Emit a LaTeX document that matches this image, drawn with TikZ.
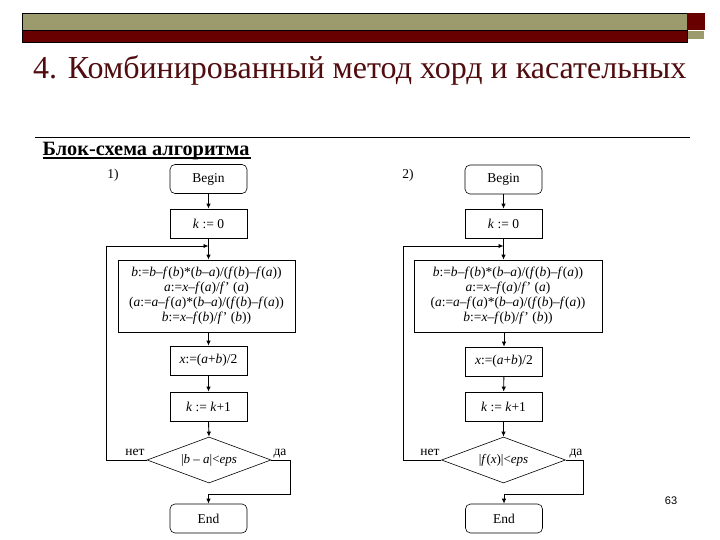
\documentclass[tikz,border=0pt]{standalone}
\usepackage{fontspec}
\setmainfont{Liberation Serif}
\setsansfont{Liberation Sans}
\usetikzlibrary{arrows.meta,shapes.geometric}
\newcommand{\myit}[1]{\textit{#1}}
\definecolor{olivebar}{RGB}{156,155,110}
\definecolor{redbar}{RGB}{104,0,0}
\definecolor{titlered}{RGB}{80,12,14}
\tikzset{
  box/.style={draw, line width=0.6pt, minimum width=77pt, minimum height=29pt, inner sep=0pt, font=\fontsize{13.5}{15}\selectfont, align=center},
  rbox/.style={box, rounded corners=5pt},
  dia/.style={draw, line width=0.6pt, shape=diamond, aspect=2.7, minimum width=124pt, minimum height=46pt, inner sep=0pt, font=\fontsize{13}{15}\selectfont},
  arr/.style={line width=0.9pt, -{Latex[length=5pt,width=4.5pt]}},
  lbl/.style={font=\fontsize{13.5}{15}\selectfont, inner sep=0pt}
}
\begin{document}
\begin{tikzpicture}[x=1pt,y=-1pt]
\useasboundingbox (0,0) rectangle (720,540);
% header bars
\fill[olivebar, draw=black, line width=0.4pt] (22,13) rectangle (687,30);
\fill[redbar, draw=black, line width=0.4pt] (22,30) rectangle (687,42);
\fill[redbar] (687,13) rectangle (705,30);
\fill[olivebar] (688,31) rectangle (704,39);
% title
\node[anchor=base west, inner sep=0pt, text=titlered, font=\fontsize{32}{34}\selectfont] (title) at (33,78.5) {4. Комбинированный метод хорд и касательных};
\draw[line width=0.8pt] (35,137.5) -- (690,137.5);
\node[anchor=base west, inner sep=0pt, font=\fontsize{20.3}{22}\selectfont\bfseries] (blk) at (42.5,155.5) {Блок-схема алгоритма};
\draw[line width=1.2pt] (blk.base west) ++(0,2.5) -- ++(208,0);

% ---------- chart 1 ----------
\node[lbl] (n1) at (113,175) {1)};
\node[rbox] (b1) at (208.5,179) {Begin};
\node[box] (k1) at (208.5,223.5) {\myit{k} := 0};
\node[box, minimum width=177pt, minimum height=72pt] (f1) at (206.5,296) {\myit{b}:=\myit{b}–\myit{f}(\myit{b})*(\myit{b}–\myit{a})/(\myit{f}(\myit{b})–\myit{f}(\myit{a}))\\ \myit{a}:=\myit{x}–\myit{f}(\myit{a})/\myit{f}’ (\myit{a})\\ (\myit{a}:=\myit{a}–\myit{f}(\myit{a})*(\myit{b}–\myit{a})/(\myit{f}(\myit{b})–\myit{f}(\myit{a}))\\ \myit{b}:=\myit{x}–\myit{f}(\myit{b})/\myit{f}’ (\myit{b}))};
\node[box] (x1) at (208.5,360.5) {\myit{x}:=(\myit{a}+\myit{b})/2};
\node[box] (q1) at (208.5,406.5) {\myit{k} := \myit{k}+1};
\node[dia] (d1) at (209,460) {|\myit{b} – \myit{a}|<\myit{eps}};
\node[rbox] (e1) at (208.5,518.5) {End};
\coordinate (j1) at (208.5,246);
\coordinate (L1) at (106,246);
\coordinate (R1) at (290,460);
\coordinate (m1) at (208.5,494);
\draw[arr] (b1) -- (k1);
\draw[arr] (k1.south) -- (k1.south |- f1.north);
\draw[arr] (f1.south -| x1) -- (x1.north);
\draw[arr] (x1) -- (q1);
\draw[arr] (q1.south) -- (d1.north);
\draw[arr] (d1.west) -| (L1) -- (j1);
\draw[arr] (d1.east) -- (R1) |- (m1) -- (e1.north);
\node[lbl, anchor=base] (no1) at (135,455) {нет};
\node[lbl, anchor=base] (yes1) at (280,455) {да};

% ---------- chart 2 ----------
\node[lbl] (n2) at (408,175) {2)};
\node[rbox] (b2) at (503.5,179.5) {Begin};
\node[box] (k2) at (503.5,223.5) {\myit{k} := 0};
\node[box, minimum width=188pt, minimum height=72pt] (f2) at (508,296) {\myit{b}:=\myit{b}–\myit{f}(\myit{b})*(\myit{b}–\myit{a})/(\myit{f}(\myit{b})–\myit{f}(\myit{a}))\\ \myit{a}:=\myit{x}–\myit{f}(\myit{a})/\myit{f}’ (\myit{a})\\ (\myit{a}:=\myit{a}–\myit{f}(\myit{a})*(\myit{b}–\myit{a})/(\myit{f}(\myit{b})–\myit{f}(\myit{a}))\\ \myit{b}:=\myit{x}–\myit{f}(\myit{b})/\myit{f}’ (\myit{b}))};
\node[box] (x2) at (504,361.5) {\myit{x}:=(\myit{a}+\myit{b})/2};
\node[box] (q2) at (503.5,406.5) {\myit{k} := \myit{k}+1};
\node[dia] (d2) at (503.5,460) {|\myit{f}(\myit{x})|<\myit{eps}};
\node[rbox] (e2) at (504,518.5) {End};
\coordinate (j2) at (503.5,246);
\coordinate (L2) at (403,246);
\coordinate (R2) at (583,460);
\coordinate (m2) at (504,494);
\draw[arr] (b2) -- (k2);
\draw[arr] (k2.south) -- (k2.south |- f2.north);
\draw[arr] (f2.south -| x2) -- (x2.north);
\draw[arr] (x2) -- (q2);
\draw[arr] (q2.south) -- (d2.north);
\draw[arr] (d2.west) -| (L2) -- (j2);
\draw[arr] (d2.east) -- (R2) |- (m2) -- (e2.north);
\node[lbl, anchor=base] (no2) at (430,455) {нет};
\node[lbl, anchor=base] (yes2) at (576,455) {да};

\node[font=\sffamily\fontsize{11}{13}\selectfont, inner sep=0pt] (pg) at (671,501) {63};
\end{tikzpicture}
\end{document}
